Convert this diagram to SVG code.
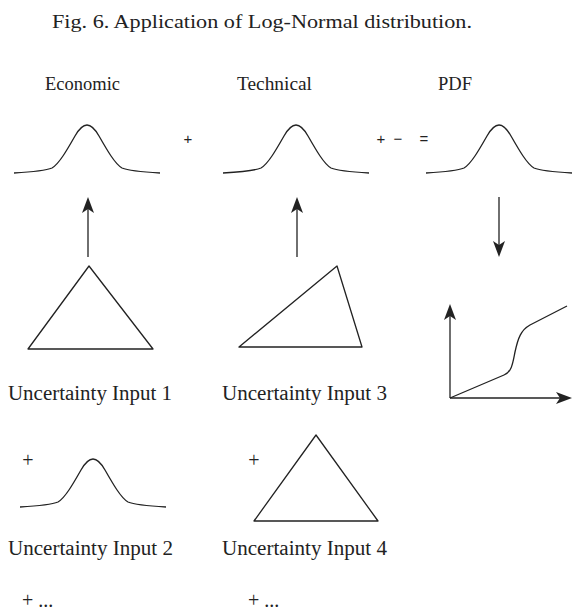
<svg xmlns="http://www.w3.org/2000/svg" xmlns:xlink="http://www.w3.org/1999/xlink" width="572" height="611" viewBox="0 0 572 611">
<style>
.ln{fill:none;stroke:#222;stroke-width:1.3;stroke-linejoin:round}
.title{font-family:"Liberation Serif","DejaVu Serif",serif;font-size:19px;fill:#222}
.hd{font-family:"Liberation Serif","DejaVu Serif",serif;font-size:18px;fill:#222}
.lb{font-family:"Liberation Serif","DejaVu Serif",serif;font-size:20px;fill:#222}
.op{font-family:"Liberation Sans","DejaVu Sans",sans-serif;font-size:15px;fill:#222}
</style>
<defs>
<marker id="ah" viewBox="0 0 16 12" refX="5" refY="6" markerWidth="16" markerHeight="12" markerUnits="userSpaceOnUse" orient="auto">
<path d="M0,0 L16,6 L0,12 L4,6 Z" fill="#222"/>
</marker>
<path id="bell" d="M-73,48 C-55,47 -42,46 -35,43 C-28,39 -20,25 -12,11 C-8,4 -4,0 0,0 C4,0 8,4 12,11 C20,25 28,39 35,43 C42,46 55,47 73,48"/>
</defs>
<text class="title" x="52" y="28" textLength="420" lengthAdjust="spacingAndGlyphs">Fig. 6. Application of Log-Normal distribution.</text>
<g id="headers">
<text class="hd" x="45" y="90" textLength="75" lengthAdjust="spacingAndGlyphs">Economic</text>
<text class="hd" x="237" y="90" textLength="75" lengthAdjust="spacingAndGlyphs">Technical</text>
<text class="hd" x="438" y="90" textLength="34" lengthAdjust="spacingAndGlyphs">PDF</text>
</g>
<g id="economic-dist"><use href="#bell" class="ln" transform="translate(87,125)"/></g>
<g id="technical-dist"><use href="#bell" class="ln" transform="translate(296,125)"/></g>
<g id="pdf-dist"><use href="#bell" class="ln" transform="translate(499,125)"/></g>
<g id="operators">
<text class="op" x="188" y="144" text-anchor="middle">+</text>
<text class="op" x="381" y="144" text-anchor="middle">+</text>
<text class="op" x="398" y="144" text-anchor="middle">−</text>
<text class="op" x="424" y="144" text-anchor="middle">=</text>
</g>
<g id="input1">
<polygon class="ln" points="89,266 28,349 153,349"/>
<text class="lb" x="8" y="400" textLength="164" lengthAdjust="spacingAndGlyphs">Uncertainty Input 1</text>
</g>
<g id="input3">
<polygon class="ln" points="337,266 239,347 362,347"/>
<text class="lb" x="222" y="400" textLength="165" lengthAdjust="spacingAndGlyphs">Uncertainty Input 3</text>
</g>
<g id="input2">
<text class="lb" x="28" y="467" text-anchor="middle">+</text>
<use href="#bell" class="ln" transform="translate(93,459)"/>
<text class="lb" x="8" y="555" textLength="165" lengthAdjust="spacingAndGlyphs">Uncertainty Input 2</text>
</g>
<g id="input4">
<text class="lb" x="254" y="467" text-anchor="middle">+</text>
<polygon class="ln" points="316,435 254,521 378,521"/>
<text class="lb" x="222" y="555" textLength="165" lengthAdjust="spacingAndGlyphs">Uncertainty Input 4</text>
</g>
<g id="more">
<text class="lb" x="22" y="607">+ ...</text>
<text class="lb" x="248" y="607">+ ...</text>
</g>
<g id="cdf-chart">
<path class="ln" d="M450,398 L504,375 C512,372 513,362 515,352 C518,338 521,330 530,325 L567,306"/>
</g>
<g id="connectors">
<line class="ln" x1="88" y1="257" x2="88" y2="208" marker-end="url(#ah)"/>
<line class="ln" x1="297" y1="257" x2="297" y2="208" marker-end="url(#ah)"/>
<line class="ln" x1="499" y1="197" x2="499" y2="246" marker-end="url(#ah)"/>
<line class="ln" x1="450" y1="398" x2="450" y2="315" marker-end="url(#ah)"/>
<line class="ln" x1="450" y1="398" x2="561" y2="398" marker-end="url(#ah)"/>
</g>
</svg>
